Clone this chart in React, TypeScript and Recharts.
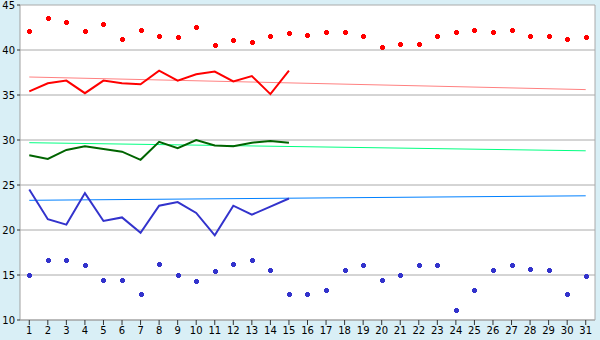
import React from 'react';
import { ComposedChart, Line, XAxis, YAxis, CartesianGrid } from 'recharts';

const days = ['1','2','3','4','5','6','7','8','9','10','11','12','13','14','15','16','17','18','19','20','21','22','23','24','25','26','27','28','29','30','31'];
const maxT = [42.1,43.5,43.1,42.1,42.9,41.2,42.2,41.6,41.4,42.5,40.6,41.1,40.9,41.6,41.9,41.7,42.0,42.0,41.6,40.3,40.7,40.7,41.5,42.0,42.2,42.0,42.2,41.5,41.5,41.2,41.4];
const minT = [15.0,16.7,16.7,16.1,14.4,14.4,12.9,16.2,15.0,14.3,15.5,16.2,16.7,15.6,12.9,12.9,13.3,15.6,16.1,14.4,15.0,16.1,16.1,11.1,13.3,15.6,16.1,15.7,15.6,12.9,14.9];
const avgMax = [35.4,36.3,36.6,35.2,36.6,36.3,36.2,37.7,36.6,37.3,37.6,36.5,37.1,35.1,37.7];
const avgMean = [28.3,27.9,28.9,29.3,29.0,28.7,27.8,29.8,29.1,30.0,29.4,29.3,29.7,29.9,29.7];
const avgMin = [24.5,21.2,20.6,24.1,21.0,21.4,19.7,22.7,23.1,21.9,19.4,22.7,21.7,22.6,23.5];
// trend lines: value on day 1 and on day 31
const trendMaxEnds = [37.0, 35.6];
const trendMeanEnds = [29.7, 28.8];
const trendMinEnds = [23.3, 23.8];
const yTicks = [10, 15, 20, 25, 30, 35, 40, 45];

const last = days.length - 1;
const data = days.map((d, i) => ({
  day: d,
  maxT: maxT[i],
  minT: minT[i],
  avgMax: i < avgMax.length ? avgMax[i] : null,
  avgMean: i < avgMean.length ? avgMean[i] : null,
  avgMin: i < avgMin.length ? avgMin[i] : null,
  trendMax: i === 0 ? trendMaxEnds[0] : i === last ? trendMaxEnds[1] : null,
  trendMean: i === 0 ? trendMeanEnds[0] : i === last ? trendMeanEnds[1] : null,
  trendMin: i === 0 ? trendMinEnds[0] : i === last ? trendMinEnds[1] : null,
}));

const marker = (color: string) => (props: any) => {
  const { cx, cy, index, value } = props;
  if (cx == null || cy == null || value == null) return <g key={index} />;
  const x = Math.round(cx);
  const y = Math.round(cy);
  return (
    <g key={index} fill={color} shapeRendering="crispEdges">
      <rect x={x - 1} y={y - 2} width={3} height={5} />
      <rect x={x - 2} y={y - 1} width={5} height={3} />
    </g>
  );
};

const font = { fontFamily: '"DejaVu Sans", Verdana, sans-serif', fontSize: 10, fill: '#000' };

export default function App() {
  return (
    <div style={{ position: 'absolute', left: 0, top: 0, width: 600, height: 340, background: '#D9EFF6' }}>
      <ComposedChart width={600} height={340} data={data} margin={{ top: 5, right: 0, bottom: 0, left: 0 }}>
        <CartesianGrid fill="#FFFFFF" vertical={false} stroke="#AAAAAA" strokeWidth={1} />
        <XAxis
          dataKey="day"
          scale="band"
          interval={0}
          height={20}
          tickSize={5}
          tickMargin={2}
          tick={font}
          tickLine={{ stroke: '#333333' }}
          axisLine={{ stroke: '#A0A0A0' }}
        />
        <YAxis
          domain={[10, 45]}
          ticks={yTicks}
          type="number"
          width={20}
          tickSize={3}
          tickMargin={2}
          tick={font}
          tickLine={{ stroke: '#333333' }}
          axisLine={{ stroke: '#A0A0A0' }}
          allowDataOverflow
        />
        <YAxis yAxisId="r" orientation="right" width={5} tick={false} tickLine={false} axisLine={{ stroke: '#AAAAAA' }} domain={[10, 45]} />
        <Line dataKey="trendMax" stroke="#FF8080" strokeWidth={1} dot={false} connectNulls isAnimationActive={false} />
        <Line dataKey="trendMean" stroke="#00FF80" strokeWidth={1} dot={false} connectNulls isAnimationActive={false} />
        <Line dataKey="trendMin" stroke="#0080FF" strokeWidth={1} dot={false} connectNulls isAnimationActive={false} />
        <Line dataKey="avgMax" type="linear" stroke="#FF0000" strokeWidth={2} dot={false} isAnimationActive={false} />
        <Line dataKey="avgMean" type="linear" stroke="#006400" strokeWidth={2} dot={false} isAnimationActive={false} />
        <Line dataKey="avgMin" type="linear" stroke="#3333CC" strokeWidth={2} dot={false} isAnimationActive={false} />
        <Line dataKey="maxT" stroke="none" dot={marker('#FF0000')} activeDot={false} isAnimationActive={false} />
        <Line dataKey="minT" stroke="none" dot={marker('#3333CC')} activeDot={false} isAnimationActive={false} />
      </ComposedChart>
    </div>
  );
}
